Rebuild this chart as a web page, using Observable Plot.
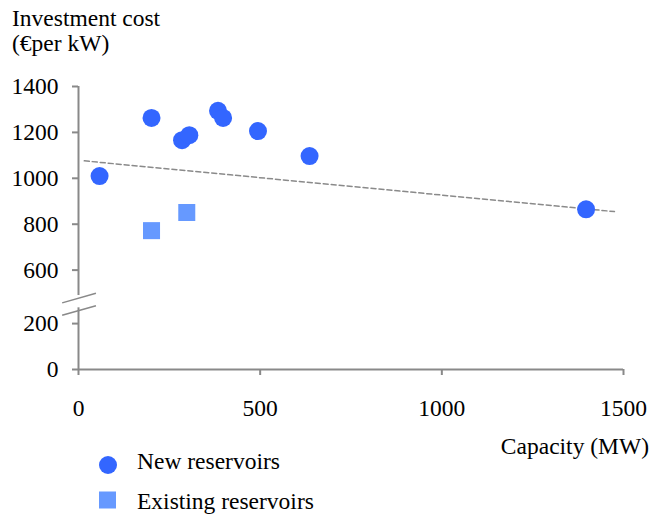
<!DOCTYPE html>
<html><head><meta charset="utf-8">
<script src="https://cdn.jsdelivr.net/npm/d3@7"></script>
<script src="https://cdn.jsdelivr.net/npm/@observablehq/plot@0.6"></script>
<style>
body{margin:0;background:#fff;}
#wrap{position:relative;width:653px;height:517px;overflow:hidden;font-family:"Liberation Serif","Times New Roman",serif;}
#chart{position:absolute;left:0;top:0;}
.t{position:absolute;font-size:23.5px;color:#000;white-space:nowrap;line-height:1;}
.sym{position:absolute;}
</style></head><body>
<div id="wrap"><div id="chart"></div></div>
<script>
// ---- data ----
const seriesNames = ["New reservoirs", "Existing reservoirs"];
const seriesColors = ["#3366ff", "#6699ff"];
const newCap  = [58, 201, 285, 305, 384, 398, 494, 636, 1397];
const newCost = [1010, 1263, 1166, 1188, 1294, 1263, 1206, 1097, 865];
const existCap  = [201, 298];
const existCost = [772, 851];
const trendCap  = [16, 1475];
const trendCost = [1076, 855];
const xTicks = [0, 500, 1000, 1500];
const yTicks = [0, 200, 600, 800, 1000, 1200, 1400];
const yTitle = ["Investment cost", "(€per kW)"];
const xTitle = "Capacity (MW)";
// broken axis: values 200–600 are compressed
const breakFrom = 200, breakTo = 600, breakSpan = 233;
const breakMarks = [298, 391];       // where the two slanted marks cross the axis
const breakSlant = 36;
const axisGap = [318, 410];          // y-axis line is interrupted between these values

// compressed display value
const f = v => v <= breakFrom ? v
  : v >= breakTo ? v - breakTo + breakFrom + breakSpan
  : breakFrom + (v - breakFrom) * breakSpan / (breakTo - breakFrom);
const finv = d => d <= breakFrom ? d
  : d >= breakFrom + breakSpan ? d - breakFrom - breakSpan + breakTo
  : breakFrom + (d - breakFrom) * (breakTo - breakFrom) / breakSpan;

const newData = newCap.map((c, i) => ({cap: c, cost: newCost[i]}));
const existData = existCap.map((c, i) => ({cap: c, cost: existCost[i]}));
const trendData = trendCap.map((c, i) => ({cap: c, cost: trendCost[i]}));
const axisColor = "#898989";
const yv = d => f(d.cost);

const chart = Plot.plot({
  width: 653,
  height: 430,
  marginLeft: 78,
  marginRight: 30,
  marginTop: 86,
  marginBottom: 61,
  style: {fontFamily: "'Liberation Serif','Times New Roman',serif", fontSize: "23.5px", color: "#000", background: "transparent", overflow: "visible"},
  x: {domain: [0, 1500]},
  y: {domain: [0, f(1400)]},
  marks: [
    // axis lines
    Plot.ruleY([0], {x1: 0, x2: 1500, stroke: axisColor, strokeWidth: 2}),
    Plot.ruleX([0], {y1: 0, y2: f(axisGap[0]), stroke: axisColor, strokeWidth: 2}),
    Plot.ruleX([0], {y1: f(axisGap[1]), y2: f(1400), stroke: axisColor, strokeWidth: 2}),
    // break marks
    Plot.link(breakMarks, {x1: -45, x2: 48, y1: d => f(d - breakSlant), y2: d => f(d + breakSlant), stroke: axisColor, strokeWidth: 1.5}),
    Plot.axisX({ticks: xTicks, tickSize: 6, tickPadding: 24, stroke: axisColor, strokeWidth: 2, label: null, tickFormat: d => String(d), fill: "#000"}),
    Plot.axisY({ticks: yTicks.map(f), tickSize: 6, tickPadding: 14, stroke: axisColor, strokeWidth: 2, label: null, tickFormat: d => String(Math.round(finv(d))), fill: "#000"}),
    // trend line
    Plot.line(trendData, {x: "cap", y: yv, stroke: "#8a8a8a", strokeWidth: 1.5, strokeDasharray: "5,3"}),
    Plot.dot(existData, {x: "cap", y: yv, symbol: "square", r: 9.6, fill: seriesColors[1], stroke: "none"}),
    Plot.dot(newData, {x: "cap", y: yv, r: 9, fill: seriesColors[0], stroke: "none"})
  ]
});
document.getElementById("chart").append(chart);

const wrap = document.getElementById("wrap");
function addText(txt, css) {
  const d = document.createElement("div");
  d.className = "t";
  d.textContent = txt;
  Object.assign(d.style, css);
  wrap.append(d);
  return d;
}
addText(yTitle[0], {left: "12px", top: "7px"});
addText(yTitle[1], {left: "12px", top: "32px"});
addText(xTitle, {right: "4px", top: "435px"});
// legend
const sw = d3.create("svg").attr("width", 30).attr("height", 30).attr("class", "sym")
  .style("left", "93px").style("top", "450px");
sw.append("circle").attr("cx", 15).attr("cy", 15).attr("r", 9).attr("fill", seriesColors[0]);
wrap.append(sw.node());
const sq = d3.create("svg").attr("width", 30).attr("height", 30).attr("class", "sym")
  .style("left", "93px").style("top", "485px");
sq.append("rect").attr("x", 6).attr("y", 6.5).attr("width", 17).attr("height", 17).attr("fill", seriesColors[1]);
wrap.append(sq.node());
addText(seriesNames[0], {left: "137px", top: "450px"});
addText(seriesNames[1], {left: "137px", top: "490px"});
</script>
</body></html>
